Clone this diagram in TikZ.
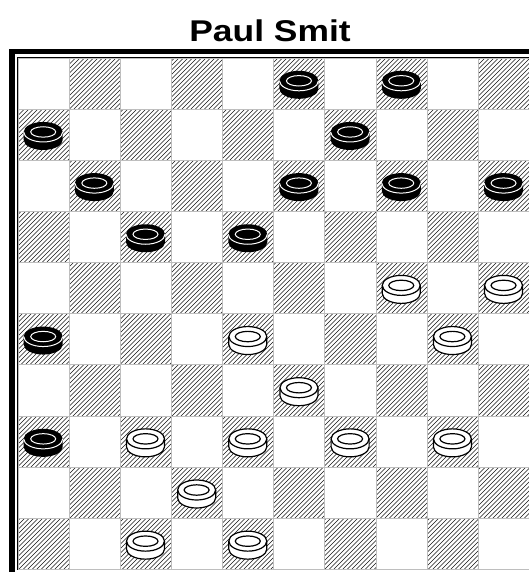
\documentclass[tikz,border=0pt]{standalone}
\usepackage{fontspec}
\setmainfont{Liberation Sans}
\definecolor{hatchC}{RGB}{20,20,20}
\definecolor{gridC}{RGB}{190,190,190}

\begin{document}
\begin{tikzpicture}[x=1pt,y=1pt,
  hatchline/.style={hatchC,line width=0.6pt},
  gridline/.style={gridC,line width=0.9pt},
  rim/.style={line width=1.2pt}]
\useasboundingbox (0,0) rectangle (529,-572);
\node[anchor=base,font=\fontsize{30}{34}\selectfont\bfseries] (title) at (270,-41.3) {\scalebox{1.18}[1]{Paul Smit}};
% frame
\draw[line width=5.5pt] (12,-51.5) rectangle (560,-600);
\draw[line width=1pt] (17.3,-57.3) rectangle (529.8,-569.8);
% dark squares
\begin{scope}
  \clip \foreach \r in {0,...,9} { \foreach \k in {0,...,4} {
    ({18+(2*\k+mod(\r+1,2))*51.15},{-58-\r*51.15}) rectangle ++(51.15,-51.15) } };
  \foreach \a in {-500,-495.5,...,535}
    \draw[hatchline] (\a,-575) -- ++(520,520);
\end{scope}
\draw[gridline,shift={(18,-58)}] (0,0) grid[step=51.15] (511.5,-511.5);
% pieces
\foreach \c/\r [evaluate=\c as \X using 43.2+51.15*\c, evaluate=\r as \Y using -(80.8+51.15*\r)]
  in {5/0,7/0,0/1,6/1,1/2,5/2,7/2,9/2,2/3,4/3,0/5,0/7} {
  \fill (\X,\Y) ++(-19.5,0) -- ++(0,-8) arc[start angle=180,end angle=360,x radius=19.5,y radius=10]
    -- ++(0,8) arc[start angle=0,end angle=180,x radius=19.5,y radius=10] -- cycle;
  \draw[white,line width=1pt] (\X,\Y) ++(-19.5,0) arc[start angle=180,end angle=360,x radius=19.5,y radius=10];
  \draw[white,line width=1pt] (\X,\Y) ellipse[x radius=12.5,y radius=5.2];
}
\foreach \c/\r [evaluate=\c as \X using 43.2+51.15*\c, evaluate=\r as \Y using -(80.8+51.15*\r)]
  in {7/4,9/4,4/5,8/5,5/6,2/7,4/7,6/7,8/7,3/8,2/9,4/9} {
  \filldraw[rim,fill=white] (\X,\Y) ++(-19,0) -- ++(0,-8) arc[start angle=180,end angle=360,x radius=19,y radius=10]
    -- ++(0,8) arc[start angle=0,end angle=180,x radius=19,y radius=10] -- cycle;
  \draw[rim] (\X,\Y) ++(-19,0) arc[start angle=180,end angle=360,x radius=19,y radius=10];
  \draw[rim] (\X,\Y) ellipse[x radius=12.5,y radius=5.2];
}
\end{tikzpicture}
\end{document}
